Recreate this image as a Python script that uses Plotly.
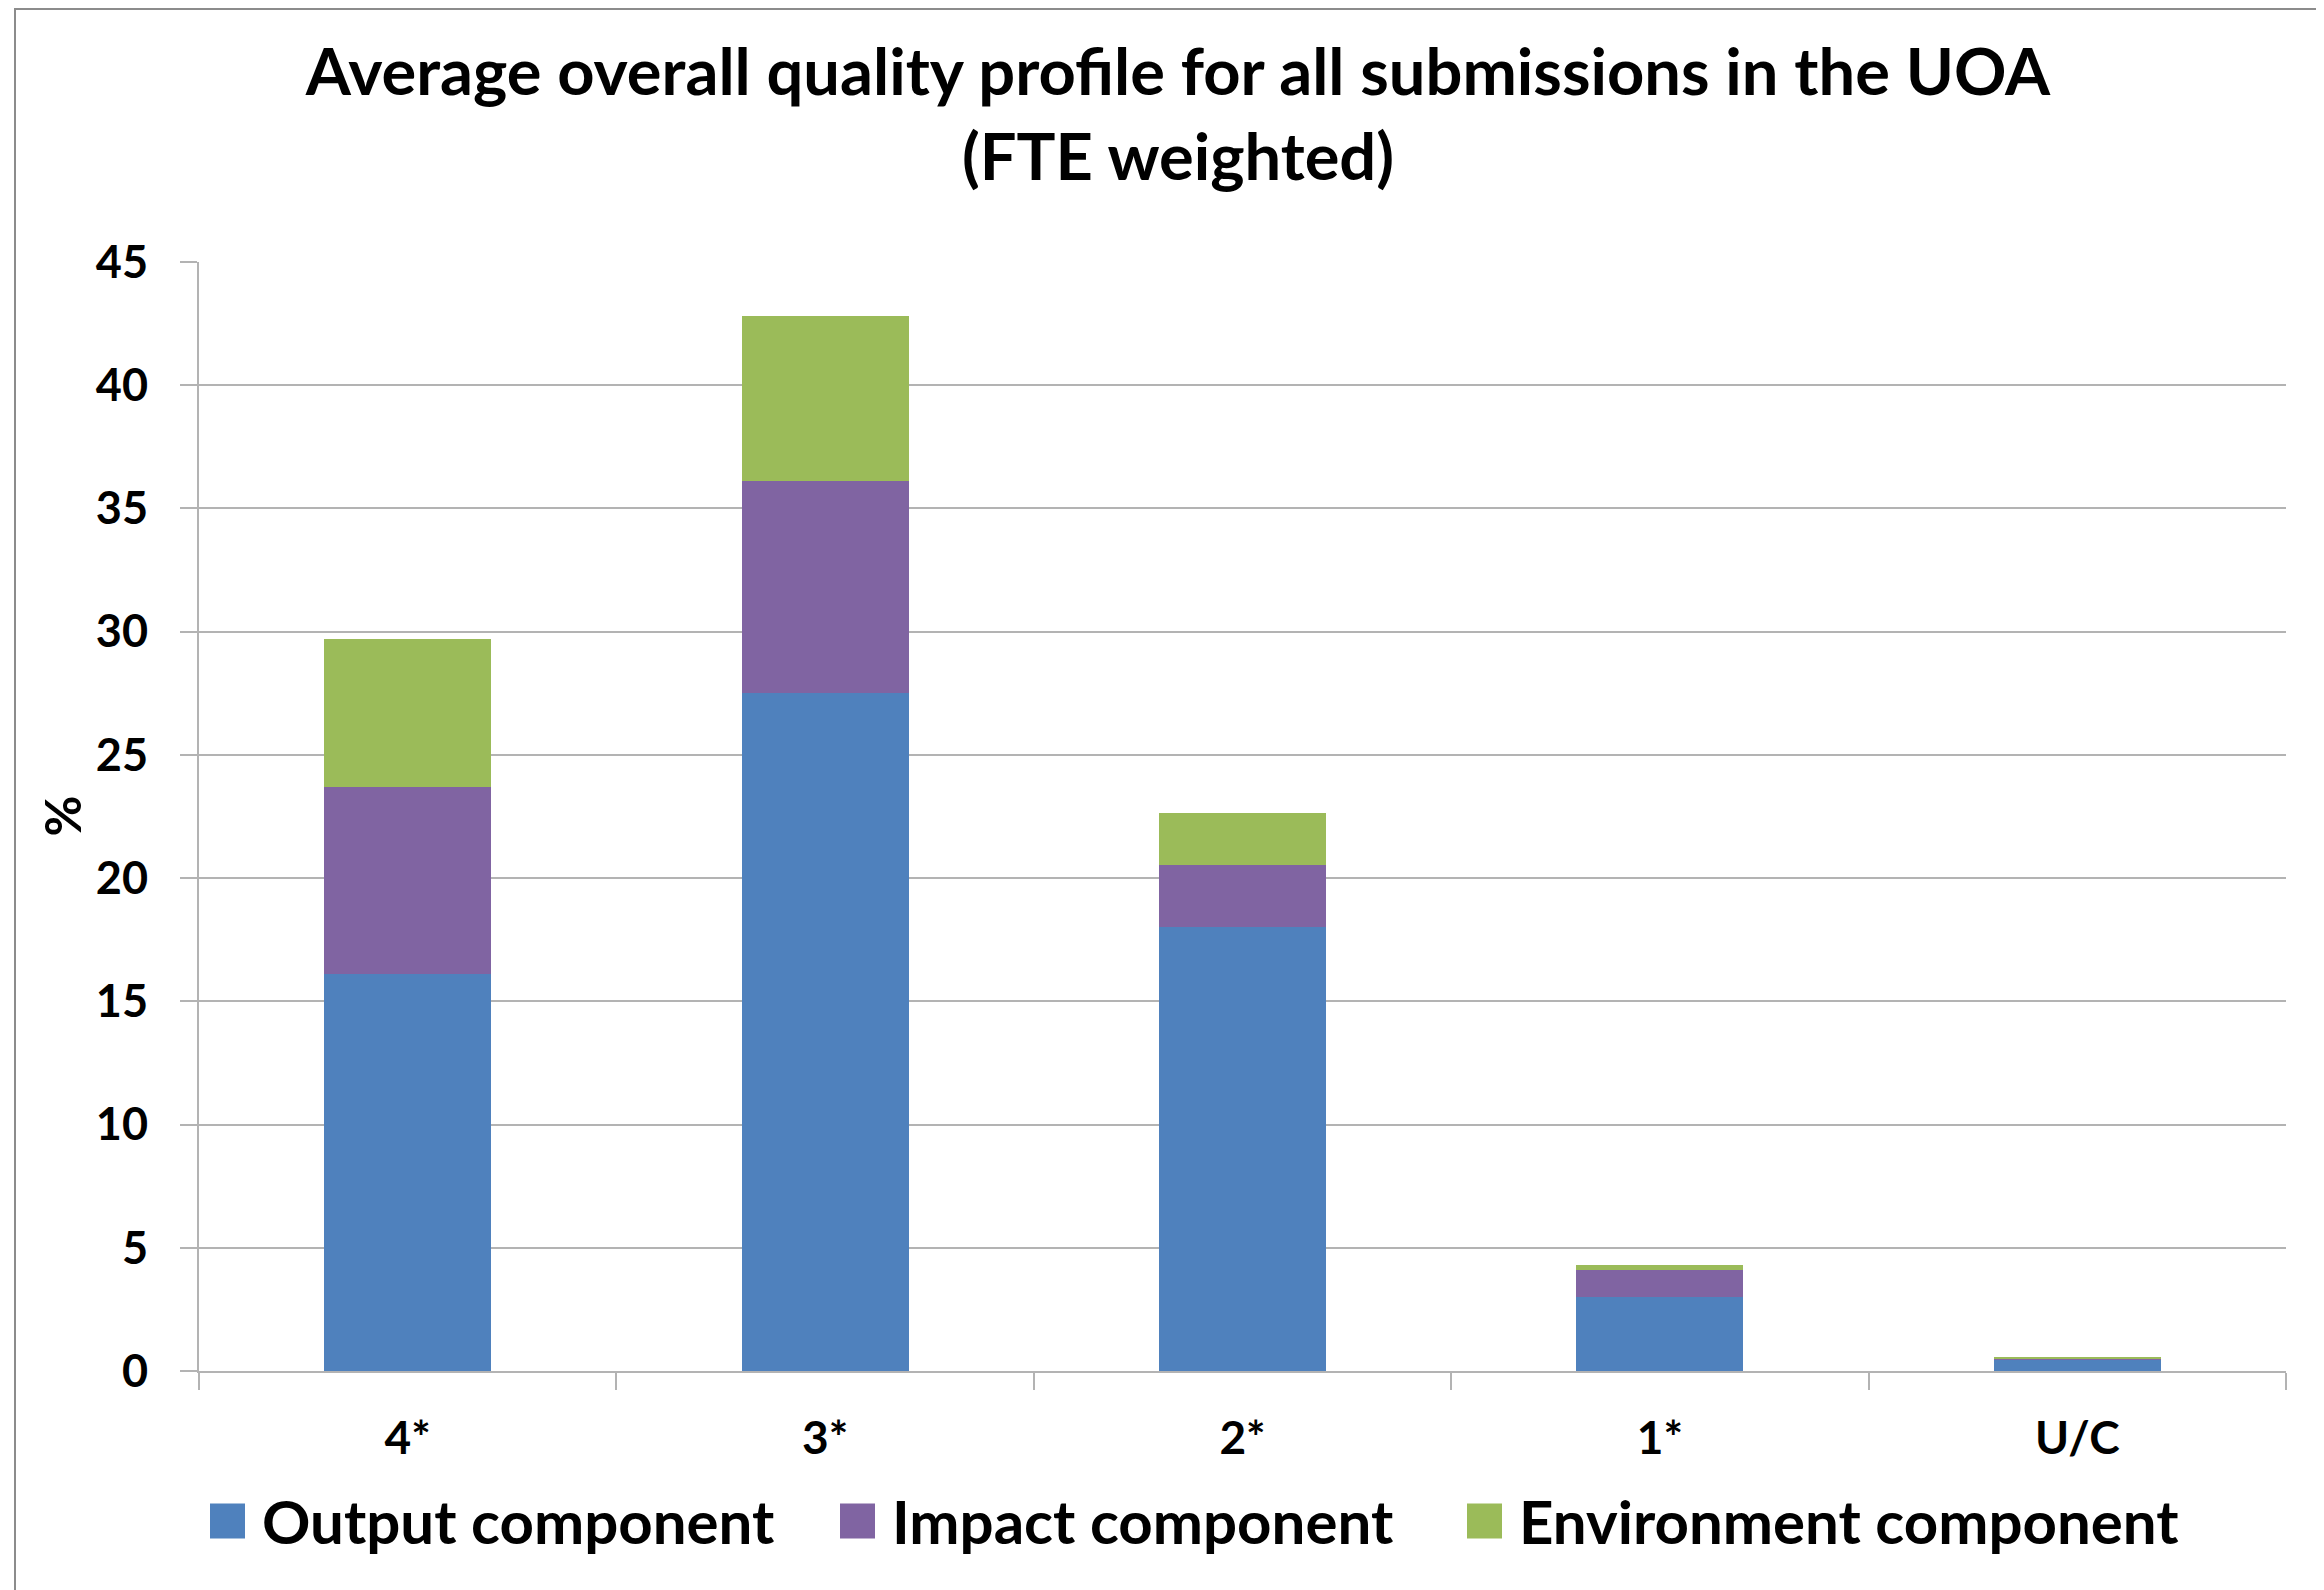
import plotly.graph_objects as go

# ---- data ----
categories = ["4*", "3*", "2*", "1*", "U/C"]
output_vals = [16.1, 27.5, 18.0, 3.0, 0.45]
impact_vals = [7.6, 8.6, 2.55, 1.1, 0.07]
environment_vals = [6.0, 6.7, 2.1, 0.2, 0.06]
series_names = ["Output component", "Impact component", "Environment component"]
y_tick_vals = [0, 5, 10, 15, 20, 25, 30, 35, 40, 45]

# ---- style ----
colors = ["#4F81BD", "#8064A2", "#9BBB59"]
FONT = "Lato"
W, H = 2324, 1590
OFF = 8  # page body margin
ML, MR, MT, MB = 191, 46, 254, 227
PW, PH = W - ML - MR, H - MT - MB
grid_col = "#B3B3B3"

fig = go.Figure()
for name, vals, col in zip(series_names, [output_vals, impact_vals, environment_vals], colors):
    fig.add_trace(go.Bar(x=categories, y=vals, name=name, marker=dict(color=col, line=dict(width=0)),
                         showlegend=False))

def px_x(p):  # page pixel -> paper x
    return (p - OFF - ML) / PW

def px_y(p):  # page pixel -> paper y
    return (H - MB - (p - OFF)) / PH

# manual legend (large square swatches)
legend_sq_left = [210, 840, 1467]
sq = 35
legend_cy = 1521
shapes = []
annotations = []
for name, col, lx in zip(series_names, colors, legend_sq_left):
    shapes.append(dict(type="rect", xref="paper", yref="paper",
                       x0=px_x(lx), x1=px_x(lx + sq), y0=px_y(legend_cy + sq / 2), y1=px_y(legend_cy - sq / 2),
                       fillcolor=col, line=dict(width=0)))
    annotations.append(dict(text=name, xref="paper", yref="paper", x=px_x(lx + sq + 15), y=px_y(legend_cy),
                            xanchor="left", yanchor="middle", showarrow=False,
                            font=dict(family=FONT, size=60, color="black", weight="bold")))

# y axis title
annotations.append(dict(text="%", xref="paper", yref="paper", x=px_x(61), y=0.5, textangle=-90,
                        xanchor="center", yanchor="middle", showarrow=False,
                        font=dict(family=FONT, size=50, color="black", weight="bold")))

# outer chart border
shapes.append(dict(type="rect", xref="paper", yref="paper",
                   x0=px_x(15), x1=px_x(W + 40), y0=px_y(H + 40), y1=px_y(OFF + 1),
                   line=dict(color="#8C8C8C", width=2), fillcolor="rgba(0,0,0,0)", layer="below"))

fig.update_layout(
    width=W, height=H,
    margin=dict(l=ML, r=MR, t=MT, b=MB),
    paper_bgcolor="white", plot_bgcolor="white",
    barmode="stack", bargap=0.6,
    title=dict(text="Average overall quality profile for all submissions in the UOA<br>(FTE weighted)",
               x=(1178 - OFF) / W, xanchor="center", xref="container",
               y=1 - 87 / H, yanchor="top",
               font=dict(family=FONT, size=65, color="black", weight="bold")),
    shapes=shapes,
    annotations=annotations,
    xaxis=dict(showline=True, linecolor=grid_col, linewidth=2, ticks="outside", tickson="boundaries",
               ticklen=17, tickwidth=2, tickcolor=grid_col, showgrid=False,
               tickfont=dict(family=FONT, size=46, color="black", weight="bold"),
               ticklabelstandoff=26),
    yaxis=dict(range=[0, 45], tickvals=y_tick_vals, showline=True, linecolor=grid_col, linewidth=2,
               ticks="outside", ticklen=17, tickwidth=2, tickcolor=grid_col,
               showgrid=True, gridcolor=grid_col, gridwidth=2, zeroline=False,
               tickfont=dict(family=FONT, size=45, color="black", weight="bold"),
               ticklabelstandoff=23),
    showlegend=False,
)

fig.write_html("out.html")
